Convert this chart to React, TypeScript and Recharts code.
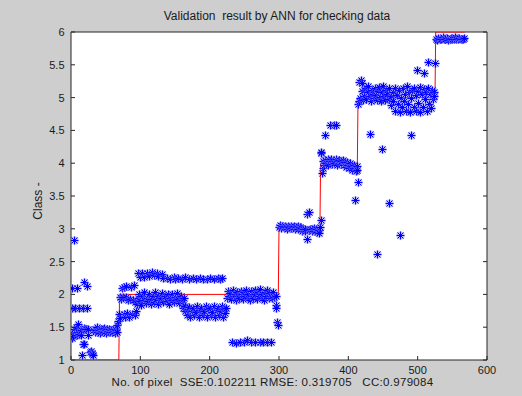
import React from 'react';
import { ScatterChart, Scatter, XAxis, YAxis, CartesianGrid } from 'recharts';

// ---- axis ticks ----
const xTicks = [0, 100, 200, 300, 400, 500, 600];
const yTicks = [1, 1.5, 2, 2.5, 3, 3.5, 4, 4.5, 5, 5.5, 6];

// ---- target class (red line) ----
const targetIdx = [0, 69, 70, 299, 300, 359, 360, 413, 414, 525, 526, 568];
const targetClass = [1, 1, 2, 2, 3, 3, 4, 4, 5, 5, 6, 6];

// ---- ANN output (blue stars), [pixel index, output] ----
const class1Output: [number, number][] = [
  [0, 1.37], [1, 2.10], [1, 1.80], [1, 1.41], [2, 1.33], [3, 1.36], [4, 1.47], [5, 2.83], [6, 1.80],
  [7, 1.51], [8, 1.38], [9, 2.10], [10, 1.55], [10, 1.43], [12, 1.80], [12, 1.39], [14, 1.38], [15, 1.46],
  [16, 1.08], [17, 1.80], [17, 1.24], [19, 1.25], [19, 1.49], [19, 2.19], [20, 1.47], [22, 1.48],
  [23, 1.80], [23, 2.13], [24, 1.38], [25, 1.48], [28, 1.12], [29, 1.14], [30, 1.11], [31, 1.09], [32, 1.08],
  [32, 1.45], [34, 1.42], [35, 1.48], [36, 1.45], [38, 1.50], [39, 1.43], [40, 1.46], [42, 1.41],
  [43, 1.48], [44, 1.44], [46, 1.47], [47, 1.42], [48, 1.49], [50, 1.45], [51, 1.41], [52, 1.47],
  [54, 1.44], [55, 1.48], [56, 1.42], [58, 1.46], [59, 1.43], [60, 1.48], [62, 1.44], [63, 1.41],
  [64, 1.47], [65, 1.45], [66, 1.42], [67, 1.54], [68, 1.59], [69, 1.70],
];

const class2Output: [number, number][] = [
  [70, 1.96], [71, 1.64], [72, 1.93], [73, 2.10], [75, 1.96], [76, 1.70], [77, 2.12], [78, 1.66],
  [79, 1.96], [80, 2.13], [81, 1.72], [82, 1.91], [83, 1.66], [85, 1.93], [87, 2.12], [88, 1.70],
  [90, 1.92], [91, 2.14], [92, 1.68], [93, 1.88], [94, 1.74],
  [97, 2.32], [99, 2.27], [103, 2.33], [105, 2.27], [110, 2.33], [112, 2.28], [117, 2.34], [119, 2.29],
  [124, 2.33], [126, 2.28], [131, 2.31], [133, 2.25], [138, 2.25], [143, 2.24], [148, 2.27], [150, 2.23],
  [155, 2.25], [160, 2.24], [165, 2.26], [170, 2.24], [176, 2.25], [181, 2.23], [186, 2.25], [191, 2.24],
  [196, 2.24], [201, 2.25], [206, 2.23], [212, 2.25], [215, 2.24], [218, 2.25],
  [95, 1.86], [96, 1.95], [98, 2.00], [100, 1.90], [101, 1.84], [103, 1.97], [105, 1.92], [106, 2.04],
  [108, 1.87], [110, 1.95], [111, 1.90], [113, 2.00], [115, 1.86], [116, 1.93], [118, 1.97], [120, 1.89],
  [121, 2.03], [123, 1.93], [125, 1.86], [126, 1.98], [128, 1.91], [130, 1.95], [131, 2.02], [133, 1.88],
  [135, 1.94], [136, 1.98], [138, 1.90], [140, 2.01], [141, 1.86], [143, 1.95], [145, 1.92], [146, 2.00],
  [148, 1.88], [150, 1.96], [151, 1.91], [153, 2.02], [155, 1.93], [156, 1.87], [158, 1.98], [160, 1.91],
  [161, 1.84], [163, 1.95],
  [162, 1.79], [164, 1.74], [165, 1.82], [167, 1.68], [169, 1.77], [170, 1.81], [172, 1.66], [174, 1.75],
  [176, 1.80], [178, 1.68], [180, 1.73], [182, 1.82], [184, 1.66], [186, 1.76], [188, 1.80], [190, 1.68],
  [192, 1.74], [194, 1.83], [196, 1.66], [198, 1.77], [200, 1.80], [202, 1.68], [204, 1.73], [206, 1.82],
  [208, 1.66], [210, 1.76], [212, 1.80], [214, 1.68], [216, 1.74], [218, 1.82], [219, 1.66], [221, 1.77],
  [222, 1.71], [224, 1.80],
  [225, 1.95], [226, 2.05], [228, 1.98], [230, 2.02], [231, 1.93], [233, 2.06], [235, 1.97], [236, 2.01],
  [238, 1.92], [240, 2.04], [241, 1.98], [243, 1.94], [245, 2.05], [246, 2.00], [248, 1.93], [250, 2.03],
  [251, 1.97], [253, 2.07], [255, 1.95], [256, 2.01], [258, 1.92], [260, 2.05], [261, 1.98], [263, 1.94],
  [265, 2.06], [266, 2.00], [268, 1.93], [270, 2.03], [271, 1.97], [273, 2.08], [275, 1.95], [276, 2.01],
  [278, 1.92], [280, 2.04], [281, 1.98], [283, 2.07], [285, 1.95], [286, 2.02], [288, 1.98], [290, 1.94],
  [291, 2.03], [293, 1.96], [295, 1.97], [296, 1.84], [296, 1.79], [297, 1.58], [298, 1.53],
  [232, 1.27], [238, 1.26], [244, 1.28], [249, 1.27], [254, 1.30], [260, 1.28], [266, 1.28], [272, 1.27],
  [277, 1.28], [283, 1.27], [289, 1.28],
];

const class3Output: [number, number][] = [
  [300, 3.03], [302, 3.06], [303, 3.01], [305, 3.04], [307, 3.02], [308, 3.05], [310, 3.03], [312, 3.00],
  [313, 3.04], [315, 3.02], [317, 3.05], [318, 3.01], [320, 3.03], [322, 3.04], [323, 3.00], [325, 3.02],
  [327, 3.04], [328, 2.99], [330, 3.02], [332, 3.01], [333, 2.97], [335, 3.00], [337, 2.96], [338, 2.99],
  [340, 2.85], [341, 3.23], [343, 3.25], [343, 2.98], [345, 3.00], [347, 2.96], [348, 2.99], [350, 3.01],
  [352, 2.97], [353, 3.00], [355, 2.95], [357, 2.98], [358, 2.93], [359, 3.02],
];

const class4Output: [number, number][] = [
  [360, 3.13], [360, 4.15], [361, 4.17], [362, 3.85], [363, 3.93], [364, 4.03], [365, 3.98], [366, 4.43],
  [367, 4.05], [368, 4.00], [370, 4.07], [371, 3.97], [373, 4.58], [373, 4.03], [375, 4.06], [376, 3.99],
  [378, 4.04], [379, 4.58], [380, 4.01], [382, 4.58], [382, 4.06], [384, 3.98], [385, 4.03], [387, 4.05],
  [389, 3.99], [390, 4.03], [392, 4.05], [394, 3.97], [395, 4.02], [397, 3.94], [398, 4.02], [400, 3.97],
  [401, 3.93], [403, 4.00], [405, 3.95], [406, 3.90], [408, 3.98], [409, 3.93], [410, 3.44], [411, 3.88],
  [412, 3.96], [413, 3.90], [414, 3.72],
];

const class5Output: [number, number][] = [
  [414, 4.90], [415, 5.24], [416, 4.95], [417, 5.00], [418, 5.27], [419, 5.10], [420, 5.22], [421, 4.97],
  [422, 5.12], [423, 5.03], [425, 5.15], [426, 4.98], [428, 5.08], [429, 5.17], [431, 5.02], [432, 4.95],
  [434, 5.12], [435, 5.06], [437, 4.99], [438, 5.15], [440, 5.04], [441, 4.97], [443, 5.10], [444, 5.16],
  [446, 5.01], [447, 4.95], [449, 5.08], [450, 5.18], [452, 5.03], [453, 4.96], [455, 5.12], [456, 5.06],
  [458, 4.98], [459, 5.14], [461, 5.02], [462, 4.88], [464, 5.09], [465, 4.95], [467, 5.15], [468, 4.80],
  [470, 5.04], [471, 4.90], [473, 5.12], [474, 4.78], [476, 5.00], [477, 4.86], [479, 5.14], [480, 4.95],
  [482, 5.05], [483, 4.80], [485, 5.17], [486, 4.90], [488, 5.08], [489, 4.78], [491, 5.00], [492, 5.12],
  [494, 4.86], [495, 5.15], [497, 5.04], [498, 4.80], [500, 5.10], [501, 4.92], [503, 5.16], [504, 4.78],
  [506, 5.05], [507, 4.86], [509, 5.13], [510, 4.98], [512, 5.08], [513, 4.80], [515, 5.15], [516, 4.90],
  [518, 5.06], [519, 4.84], [521, 5.12], [522, 4.98], [523, 5.08], [524, 5.03],
  [431, 4.45], [441, 2.61], [448, 4.21], [458, 3.40], [474, 2.90], [491, 4.43], [499, 5.42], [509, 5.38],
  [515, 5.55], [525, 5.52],
];

const class6Output: [number, number][] = [
  [526, 5.90], [528, 5.88], [530, 5.91], [532, 5.89], [534, 5.90], [536, 5.92], [538, 5.89], [540, 5.90],
  [542, 5.91], [544, 5.88], [546, 5.90], [548, 5.91], [550, 5.89], [552, 5.90], [554, 5.92], [556, 5.89],
  [558, 5.90], [560, 5.91], [562, 5.89], [564, 5.90], [566, 5.90], [567, 5.91],
];

const target = targetIdx.map((x, i) => ({ x, y: targetClass[i] }));
const output = [
  ...class1Output, ...class2Output, ...class3Output, ...class4Output, ...class5Output, ...class6Output,
].map(([x, y]) => ({ x, y }));

const Star = (props: any) => {
  const { cx, cy } = props;
  if (cx == null || cy == null || isNaN(cx) || isNaN(cy)) return <g />;
  const x = Math.round(cx) + 0.5;
  const y = Math.round(cy) + 0.5;
  const a = 4;
  const d = 3;
  const p = `M${x - a},${y}H${x + a}M${x},${y - a}V${y + a}M${x - d},${y - d}L${x + d},${y + d}M${x - d},${y + d}L${x + d},${y - d}`;
  return (
    <g>
      <path d={p} stroke="#6f6fff" strokeOpacity={0.45} strokeWidth={3} fill="none" />
      <path d={p} stroke="#0000ff" strokeWidth={1} fill="none" />
    </g>
  );
};

const Empty = () => <g />;

const FONT = '"Liberation Sans", Arial, Helvetica, sans-serif';
const TXT = '#1a1a1a';
const AX = '#262626';

export default function App() {
  return (
    <div
      style={{
        position: 'absolute', left: 0, top: 0, width: 522, height: 396,
        background: '#cecece', overflow: 'hidden', fontFamily: FONT,
      }}
    >
      <ScatterChart width={522} height={396} margin={{ top: 32, right: 35, bottom: 0, left: 0 }}>
        <CartesianGrid xAxisId="b" yAxisId="l" horizontal={false} vertical={false} fill="#ffffff" fillOpacity={1} />
        <XAxis
          xAxisId="b" type="number" dataKey="x" domain={[0, 600]} ticks={xTicks} interval={0}
          allowDataOverflow height={36} tickSize={-4} tickMargin={10} stroke={AX}
          tick={{ fill: TXT, fontSize: 11, fontFamily: FONT }}
        />
        <XAxis
          xAxisId="t" orientation="top" mirror type="number" domain={[0, 600]} ticks={xTicks} interval={0}
          allowDataOverflow tickSize={4} tickFormatter={() => ''} stroke={AX}
        />
        <YAxis
          yAxisId="l" type="number" dataKey="y" domain={[1, 6]} ticks={yTicks} interval={0}
          allowDataOverflow width={71} tickSize={-4} tickMargin={10.5} stroke={AX}
          tick={{ fill: TXT, fontSize: 11, fontFamily: FONT }}
        />
        <YAxis
          yAxisId="r" orientation="right" mirror type="number" domain={[1, 6]} ticks={yTicks} interval={0}
          allowDataOverflow tickSize={4} tickFormatter={() => ''} stroke={AX}
        />
        <Scatter
          xAxisId="b" yAxisId="l" data={target} line={{ stroke: '#ff0000', strokeWidth: 1 }}
          lineType="joint" shape={Empty} isAnimationActive={false}
        />
        <Scatter xAxisId="b" yAxisId="l" data={output} shape={Star} isAnimationActive={false} />
      </ScatterChart>
      <svg width={522} height={396} style={{ position: 'absolute', left: 0, top: 0, pointerEvents: 'none' }}>
        <text x={277} y={20} textAnchor="middle" fontSize={12} fill={TXT} fontFamily={FONT} style={{ whiteSpace: 'pre' }}>
          {'Validation  result by ANN for checking data'}
        </text>
        <text
          x={272.5} y={386} textAnchor="middle" fontSize={11.5} letterSpacing={0.3} fill={TXT}
          fontFamily={FONT} style={{ whiteSpace: 'pre' }}
        >
          {'No. of pixel  SSE:0.102211 RMSE: 0.319705   CC:0.979084'}
        </text>
        <text x={-201} y={42} transform="rotate(-90)" textAnchor="middle" fontSize={12} fill={TXT} fontFamily={FONT}>
          {'Class -'}
        </text>
      </svg>
    </div>
  );
}
